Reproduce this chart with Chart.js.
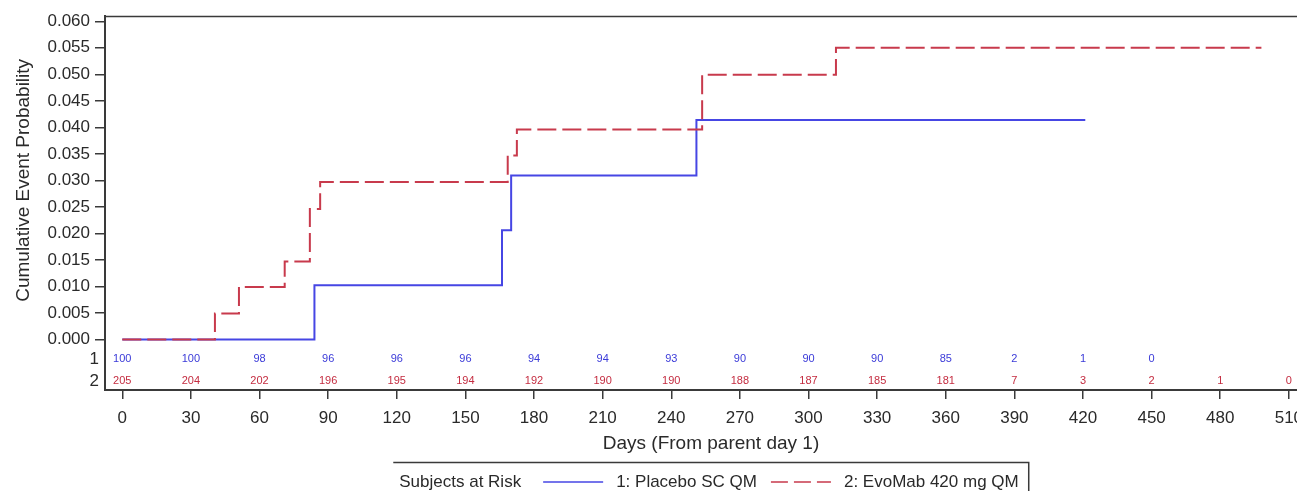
<!DOCTYPE html>
<html>
<head>
<meta charset="utf-8">
<script src="https://cdn.jsdelivr.net/npm/chart.js@4.4.1/dist/chart.umd.min.js"></script>
<style>
  html, body { margin: 0; padding: 0; background: #fff; overflow: hidden; }
  #wrap { width: 1320px; height: 491px; }
</style>
</head>
<body>
<div id="wrap"><canvas id="km" width="1320" height="491"></canvas></div>
<script>
// Axis ticks
const dayTicks = [0, 30, 60, 90, 120, 150, 180, 210, 240, 270, 300, 330, 360, 390, 420, 450, 480, 510];
const probTicks = [0, 0.005, 0.010, 0.015, 0.020, 0.025, 0.030, 0.035, 0.040, 0.045, 0.050, 0.055, 0.060];

// Kaplan-Meier steps: day of each step and cumulative probability after it
const placeboDays = [0, 84, 166, 170, 251, 421];
const placeboProb = [0, 0.0102, 0.0206, 0.0309, 0.0414, 0.0414];
const evoDays = [0, 40.5, 51, 71, 82, 86.5, 168.5, 172.5, 253.5, 312, 498];
const evoProb = [0, 0.0049, 0.0099, 0.0147, 0.0246, 0.0297, 0.0347, 0.0396, 0.0499, 0.0550, 0.0550];

// Subjects at risk at each day tick
const placeboAtRisk = [100, 100, 98, 96, 96, 96, 94, 94, 93, 90, 90, 90, 85, 2, 1, 0];
const evoAtRisk = [205, 204, 202, 196, 195, 194, 192, 190, 190, 188, 187, 185, 181, 7, 3, 2, 1, 0];

const seriesNames = ['1: Placebo SC QM', '2: EvoMab 420 mg QM'];
const riskRowLabels = ['1', '2'];
const riskTitle = 'Subjects at Risk';
const xTitle = 'Days (From parent day 1)';
const yTitle = 'Cumulative Event Probability';

const FONT = "'Liberation Sans', Arial, sans-serif";
const BLUE = '#4646e4';
const RED = '#c83a4c';
const BLUE_TXT = '#3a3ad8';
const RED_TXT = '#c42c40';
const AXIS = '#3a3a3a';
const TEXT = '#2a2a2a';
const EVO_DASH = [19, 6];

const toPoints = (xs, ys) => xs.map((d, i) => ({ x: d, y: ys[i] }));

// Frame top, y title, at-risk table and the bottom legend
const decorations = {
  id: 'decorations',
  afterDraw(chart) {
    const ctx = chart.ctx;
    const { left, right, top } = chart.chartArea;
    const xs = chart.scales.x;
    const ys = chart.scales.y;
    ctx.save();

    // top frame line
    ctx.strokeStyle = AXIS;
    ctx.lineWidth = 1.5;
    ctx.beginPath();
    ctx.moveTo(left, top + 0.5);
    ctx.lineTo(right, top + 0.5);
    ctx.stroke();

    // y axis title, centred on the probability range
    const yMid = (ys.getPixelForValue(0) + ys.getPixelForValue(0.06)) / 2;
    ctx.translate(24, yMid);
    ctx.rotate(-Math.PI / 2);
    ctx.fillStyle = TEXT;
    ctx.font = `19px ${FONT}`;
    ctx.textAlign = 'center';
    ctx.textBaseline = 'middle';
    ctx.fillText(yTitle, 0, 0);
    ctx.setTransform(1, 0, 0, 1, 0, 0);

    // at-risk rows
    const zeroY = ys.getPixelForValue(0);
    const rows = [
      { y: zeroY + 20, vals: placeboAtRisk, color: BLUE_TXT },
      { y: zeroY + 42, vals: evoAtRisk, color: RED_TXT }
    ];
    rows.forEach((row, r) => {
      ctx.font = `17px ${FONT}`;
      ctx.fillStyle = TEXT;
      ctx.textAlign = 'right';
      ctx.textBaseline = 'middle';
      ctx.fillText(riskRowLabels[r], 99, row.y);
      ctx.font = `11px ${FONT}`;
      ctx.fillStyle = row.color;
      ctx.textAlign = 'center';
      row.vals.forEach((v, i) => {
        ctx.fillText(String(v), xs.getPixelForValue(dayTicks[i]), row.y);
      });
    });

    // legend
    ctx.font = `17px ${FONT}`;
    ctx.textBaseline = 'middle';
    ctx.textAlign = 'left';
    const lineLen = 60, gapBefore = 22, gapAfter = 13, gapItem = 14, padL = 6, padR = 10;
    const wTitle = ctx.measureText(riskTitle).width;
    const w1 = ctx.measureText(seriesNames[0]).width;
    const w2 = ctx.measureText(seriesNames[1]).width;
    const total = padL + wTitle + gapBefore + lineLen + gapAfter + w1 + gapItem + lineLen + gapAfter + w2 + padR;
    const cx = (left + right) / 2;
    const bx = cx - total / 2;
    const by = 462.5;
    const ty = 482;
    ctx.strokeStyle = AXIS;
    ctx.lineWidth = 1.5;
    ctx.beginPath();
    ctx.moveTo(bx, by);
    ctx.lineTo(bx + total, by);
    ctx.lineTo(bx + total, 491);
    ctx.stroke();

    let x = bx + padL;
    ctx.fillStyle = TEXT;
    ctx.fillText(riskTitle, x, ty);
    x += wTitle + gapBefore;
    ctx.strokeStyle = BLUE;
    ctx.lineWidth = 1.5;
    ctx.beginPath();
    ctx.moveTo(x, ty);
    ctx.lineTo(x + lineLen, ty);
    ctx.stroke();
    x += lineLen + gapAfter;
    ctx.fillStyle = TEXT;
    ctx.fillText(seriesNames[0], x, ty);
    x += w1 + gapItem;
    ctx.strokeStyle = RED;
    ctx.setLineDash([17, 6]);
    ctx.beginPath();
    ctx.moveTo(x, ty);
    ctx.lineTo(x + lineLen, ty);
    ctx.stroke();
    ctx.setLineDash([]);
    x += lineLen + gapAfter;
    ctx.fillText(seriesNames[1], x, ty);

    ctx.restore();
  }
};

new Chart(document.getElementById('km'), {
  type: 'line',
  data: {
    datasets: [
      {
        label: seriesNames[1],
        data: toPoints(evoDays, evoProb),
        borderColor: RED,
        borderWidth: 2,
        borderDash: EVO_DASH,
        stepped: true,
        pointRadius: 0,
        fill: false,
        order: 0
      },
      {
        label: seriesNames[0],
        data: toPoints(placeboDays, placeboProb),
        borderColor: BLUE,
        borderWidth: 2,
        stepped: true,
        pointRadius: 0,
        fill: false,
        order: 1
      }
    ]
  },
  options: {
    responsive: false,
    animation: false,
    events: [],
    layout: { padding: { top: 16, right: 3, left: 0, bottom: 0 } },
    plugins: { legend: { display: false }, tooltip: { enabled: false } },
    scales: {
      x: {
        type: 'linear',
        min: -7.56,
        max: 522.3,
        afterBuildTicks: s => { s.ticks = dayTicks.map(v => ({ value: v })); },
        ticks: {
          font: { family: FONT, size: 17 },
          color: TEXT,
          padding: 9,
          maxRotation: 0,
          autoSkip: false,
          callback: v => String(v)
        },
        grid: { drawOnChartArea: false, drawTicks: true, tickLength: 9, color: AXIS, lineWidth: 1.5 },
        border: { display: true, color: AXIS, width: 2 },
        title: {
          display: true,
          text: xTitle,
          font: { family: FONT, size: 19 },
          color: TEXT,
          padding: { top: 0, bottom: 36 }
        },
        afterFit: s => { s.height = 101; s.paddingLeft = 0; s.paddingRight = 0; }
      },
      y: {
        type: 'linear',
        min: -0.00954,
        max: 0.0610,
        afterBuildTicks: s => { s.ticks = probTicks.map(v => ({ value: v })); },
        ticks: {
          font: { family: FONT, size: 17 },
          color: TEXT,
          padding: 5,
          callback: v => v.toFixed(3)
        },
        grid: { drawOnChartArea: false, drawTicks: true, tickLength: 10, color: AXIS, lineWidth: 1.5 },
        border: { display: true, color: AXIS, width: 2 },
        afterFit: s => { s.width = 105; s.paddingTop = 0; s.paddingBottom = 0; }
      }
    }
  },
  plugins: [decorations]
});
</script>
</body>
</html>
